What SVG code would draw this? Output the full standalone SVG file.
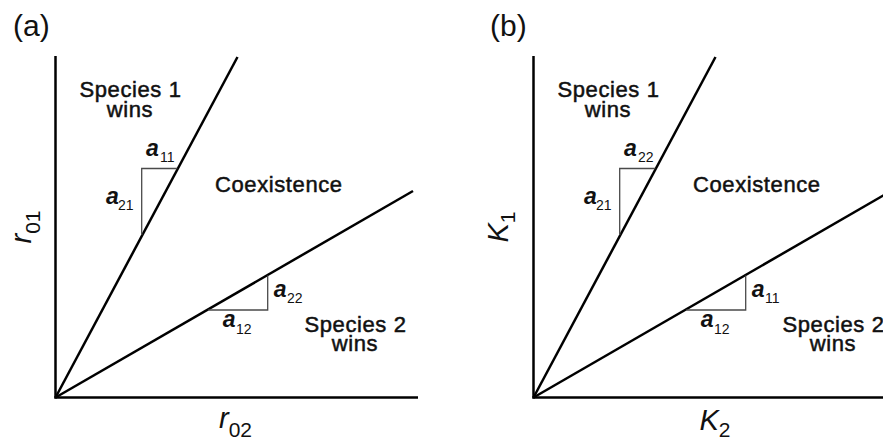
<svg xmlns="http://www.w3.org/2000/svg" width="883" height="439" viewBox="0 0 883 439">
  <style>
    .bg { fill: #ffffff; }
    .ln { stroke: #000; stroke-width: 2.5; fill: none; }
    .tri { stroke: #4a4a4a; stroke-width: 1.3; fill: none; }
    text { font-family: "Liberation Sans", Arial, sans-serif; fill: #111; }
    .panel { font-size: 30px; }
    .lbl { font-size: 22px; letter-spacing: 0.6px; stroke: #111; stroke-width: 0.5px; }
    .coef { font-size: 23px; font-weight: bold; font-style: italic; }
    .sub { font-size: 14px; font-weight: normal; font-style: normal; stroke: none; }
    .axl { font-size: 29px; font-style: italic; }
    .axs { font-size: 21px; font-style: normal; }
  </style>
  <defs>
    <g id="lines">
      <line class="ln" x1="55.5" y1="56" x2="55.5" y2="398.5"/>
      <line class="ln" x1="54.5" y1="397.5" x2="418" y2="397.5"/>
      <line class="ln" x1="55.5" y1="397.5" x2="237.5" y2="57"/>
      <line class="ln" x1="55.5" y1="397.5" x2="413" y2="191"/>
      <polyline class="tri" points="177.3,168.5 141.7,168.5 141.7,235"/>
      <polyline class="tri" points="208.3,310 267.7,310 267.7,275.5"/>
    </g>
  </defs>
  <rect class="bg" x="0" y="0" width="883" height="439"/>

  <g id="connectors">
    <use href="#lines"/>
    <use href="#lines" transform="translate(478,0)"/>
  </g>

  <g id="panel-a">
    <text id="a-title" class="panel" x="13" y="36">(a)</text>
    <g id="a-species1"><text class="lbl" text-anchor="middle"><tspan x="130.5" y="96.7">Species 1</tspan><tspan x="130" y="116.5">wins</tspan></text></g>
    <g id="a-coexistence"><text class="lbl" x="215" y="191.7">Coexistence</text></g>
    <g id="a-species2"><text class="lbl" text-anchor="middle"><tspan x="355.5" y="331.7">Species 2</tspan><tspan x="355" y="351">wins</tspan></text></g>
    <g id="a-a11"><text class="coef" x="146" y="155.7">a<tspan class="sub" x="160" y="161.7">11</tspan></text></g>
    <g id="a-a21"><text class="coef" x="106" y="204">a<tspan class="sub" x="118" y="210">21</tspan></text></g>
    <g id="a-a22"><text class="coef" x="273.8" y="297.3">a<tspan class="sub" x="287" y="303.3">22</tspan></text></g>
    <g id="a-a12"><text class="coef" x="222.8" y="327.3">a<tspan class="sub" x="236" y="333.5">12</tspan></text></g>
    <g id="a-xlabel"><text x="235.5" y="428" text-anchor="middle"><tspan class="axl">r</tspan><tspan class="axs" dy="8.5">02</tspan></text></g>
    <g id="a-ylabel"><text transform="translate(31,227) rotate(-90)" text-anchor="middle"><tspan class="axl">r</tspan><tspan class="axs" dy="8.5">01</tspan></text></g>
  </g>

  <g id="panel-b">
    <text id="b-title" class="panel" x="490" y="36">(b)</text>
    <g id="b-species1"><text class="lbl" text-anchor="middle"><tspan x="608.5" y="96.7">Species 1</tspan><tspan x="608" y="116.5">wins</tspan></text></g>
    <g id="b-coexistence"><text class="lbl" x="693" y="191.7">Coexistence</text></g>
    <g id="b-species2"><text class="lbl" text-anchor="middle"><tspan x="833.5" y="331.7">Species 2</tspan><tspan x="833" y="351">wins</tspan></text></g>
    <g id="b-a22"><text class="coef" x="624" y="155.7">a<tspan class="sub" x="638" y="161.7">22</tspan></text></g>
    <g id="b-a21"><text class="coef" x="584" y="204">a<tspan class="sub" x="596" y="210">21</tspan></text></g>
    <g id="b-a11"><text class="coef" x="751.8" y="297.3">a<tspan class="sub" x="765" y="303.3">11</tspan></text></g>
    <g id="b-a12"><text class="coef" x="700.8" y="327.3">a<tspan class="sub" x="714" y="333.5">12</tspan></text></g>
    <g id="b-xlabel"><text x="715" y="430" text-anchor="middle"><tspan class="axl">K</tspan><tspan class="axs" dy="6.5">2</tspan></text></g>
    <g id="b-ylabel"><text transform="translate(508,227) rotate(-90)" text-anchor="middle"><tspan class="axl">K</tspan><tspan class="axs" dy="6.5">1</tspan></text></g>
  </g>
</svg>
